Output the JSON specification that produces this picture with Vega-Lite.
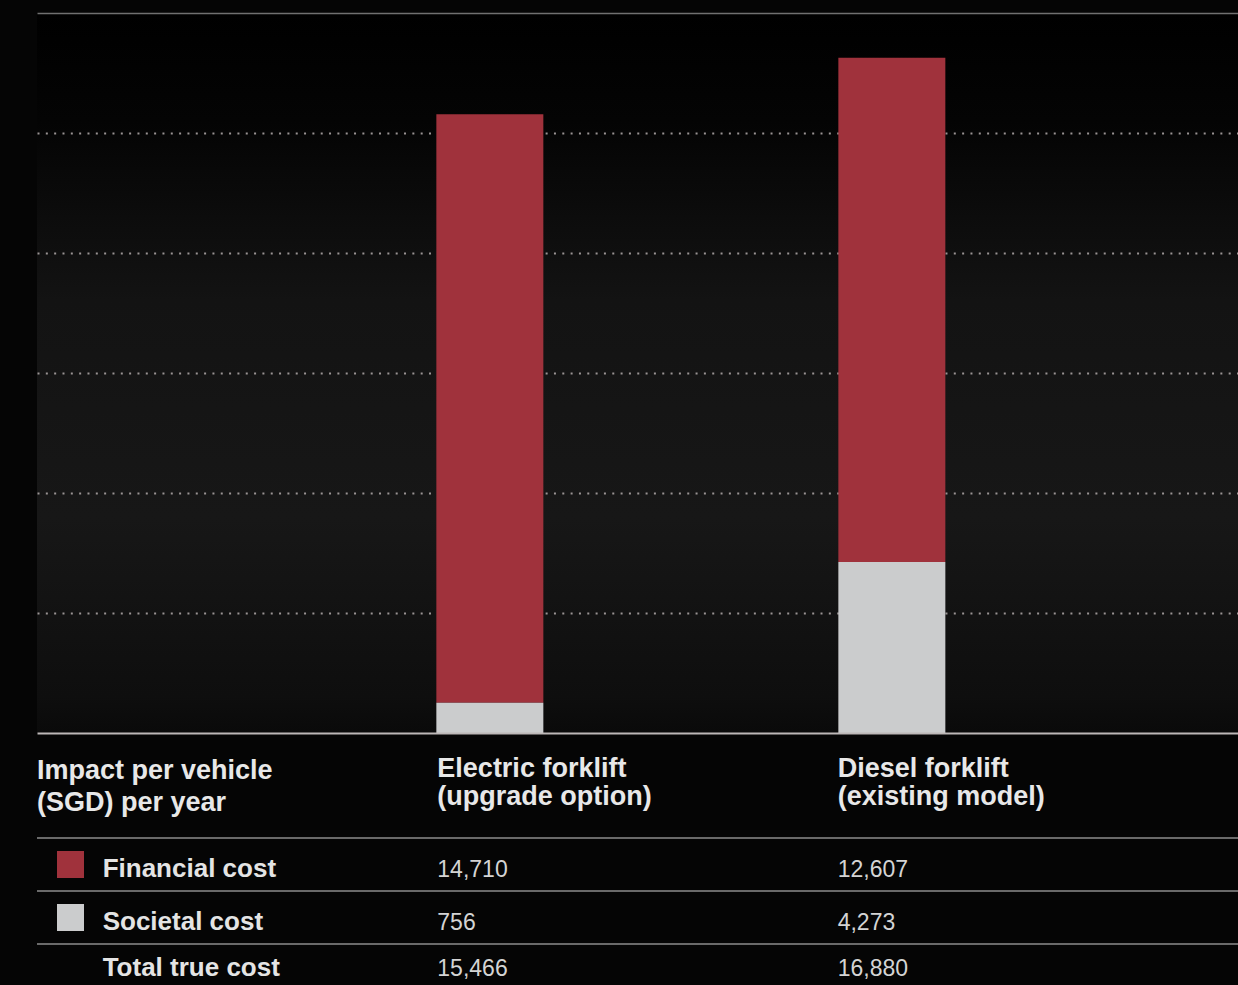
{
  "$schema": "https://vega.github.io/schema/vega-lite/v6.json",
  "background": "#050505",
  "padding": {"left": 36, "top": 13, "right": 0, "bottom": 0},
  "spacing": 0,
  "config": {
    "view": {"stroke": null},
    "axis": {"minExtent": 0},
    "font": "Liberation Sans",
    "concat": {"spacing": 0}
  },
  "resolve": {"scale": {"x": "independent", "y": "independent"}},
  "datasets": {
    "costs": [
      {"vehicle": "Electric forklift", "cost": "Financial cost", "value": 14710},
      {"vehicle": "Electric forklift", "cost": "Societal cost", "value": 756},
      {"vehicle": "Electric forklift", "cost": "Total true cost", "value": 15466},
      {"vehicle": "Diesel forklift", "cost": "Financial cost", "value": 12607},
      {"vehicle": "Diesel forklift", "cost": "Societal cost", "value": 4273},
      {"vehicle": "Diesel forklift", "cost": "Total true cost", "value": 16880}
    ],
    "headers": [
      {"column": "Cost type", "lines": ["Impact per vehicle", "(SGD) per year"]},
      {"column": "Electric forklift", "lines": ["Electric forklift", "(upgrade option)"]},
      {"column": "Diesel forklift", "lines": ["Diesel forklift", "(existing model)"]}
    ]
  },
  "vconcat": [
    {
      "width": 1201,
      "height": 720,
      "view": {
        "fill": {
          "gradient": "linear", "x1": 0, "y1": 0, "x2": 0, "y2": 1,
          "stops": [
            {"offset": 0, "color": "#000000"},
            {"offset": 0.15, "color": "#040404"},
            {"offset": 0.4, "color": "#131313"},
            {"offset": 0.7, "color": "#171717"},
            {"offset": 0.95, "color": "#0e0e0e"},
            {"offset": 1, "color": "#0a0a0a"}
          ]
        }
      },
      "data": {"name": "costs"},
      "transform": [{"filter": "datum.cost !== 'Total true cost'"}],
      "mark": {"type": "bar"},
      "encoding": {
        "x": {
          "field": "vehicle", "type": "nominal",
          "scale": {"domain": ["Electric forklift", "Diesel forklift"], "paddingInner": 0.73383, "paddingOuter": 0.86069, "align": 0.57709},
          "axis": {"labels": false, "ticks": false, "title": null, "grid": false, "domainColor": "#bdb8b8", "domainWidth": 2, "zindex": 1}
        },
        "y": {
          "field": "value", "type": "quantitative", "stack": "zero",
          "scale": {"domain": [0, 18000], "nice": false},
          "axis": {
            "values": [3000, 6000, 9000, 12000, 15000, 18000],
            "labels": false, "ticks": false, "domain": false, "title": null, "grid": true,
            "gridColor": {"condition": {"test": "datum.value === 18000", "value": "#707070"}, "value": "#9a9494"},
            "gridDash": {"condition": {"test": "datum.value === 18000", "value": []}, "value": [2, 6.33]},
            "gridWidth": {"condition": {"test": "datum.value === 18000", "value": 1.5}, "value": 2}
          }
        },
        "color": {
          "field": "cost", "type": "nominal",
          "scale": {"domain": ["Financial cost", "Societal cost"], "range": ["#a0323c", "#cbcccd"]},
          "legend": null
        },
        "order": {"field": "cost", "sort": "descending"}
      }
    },
    {
      "width": 1201,
      "height": 104,
      "data": {"name": "headers"},
      "layer": [
        {
          "transform": [{"filter": "datum.column === 'Cost type'"}],
          "mark": {"type": "text", "align": "left", "baseline": "alphabetic", "dy": -6, "fontSize": 27, "fontWeight": "bold", "color": "#e8e8e8", "lineHeight": 32},
          "encoding": {
            "x": {"field": "column", "type": "nominal", "bandPosition": 0, "scale": {"type": "band", "domain": ["Cost type", "Electric forklift", "Diesel forklift"], "paddingInner": 0, "paddingOuter": 0}, "axis": null},
            "text": {"field": "lines"}
          }
        },
        {
          "transform": [{"filter": "datum.column !== 'Cost type'"}],
          "mark": {"type": "text", "align": "left", "baseline": "alphabetic", "dy": -8, "fontSize": 27, "fontWeight": "bold", "color": "#e8e8e8", "lineHeight": 28},
          "encoding": {
            "x": {"field": "column", "type": "nominal", "bandPosition": 0, "axis": null},
            "text": {"field": "lines"}
          }
        }
      ]
    },
    {
      "width": 1201,
      "height": 159,
      "data": {"name": "costs"},
      "layer": [
        {
          "transform": [{"filter": "datum.vehicle === 'Electric forklift'"}],
          "mark": {"type": "rule", "color": "#8c8c8c", "strokeWidth": 1.5},
          "encoding": {
            "y": {"field": "cost", "type": "nominal", "bandPosition": 0, "scale": {"type": "band", "domain": ["Financial cost", "Societal cost", "Total true cost"], "paddingInner": 0, "paddingOuter": 0}, "axis": null}
          }
        },
        {
          "transform": [{"filter": "datum.vehicle === 'Electric forklift' && datum.cost !== 'Total true cost'"}],
          "mark": {"type": "square", "size": 729, "filled": true, "opacity": 1},
          "encoding": {
            "x": {"datum": "Cost type", "type": "nominal", "bandPosition": 0.0837, "scale": {"type": "band", "domain": ["Cost type", "Electric forklift", "Diesel forklift"], "paddingInner": 0, "paddingOuter": 0}, "axis": null},
            "y": {"field": "cost", "type": "nominal", "axis": null},
            "color": {"field": "cost", "type": "nominal", "scale": {"domain": ["Financial cost", "Societal cost"], "range": ["#a0323c", "#cbcccd"]}, "legend": null}
          }
        },
        {
          "transform": [{"filter": "datum.vehicle === 'Electric forklift' && datum.cost !== 'Total true cost'"}],
          "mark": {"type": "text", "align": "left", "baseline": "alphabetic", "dy": 12, "fontSize": 26, "fontWeight": "bold", "color": "#e4e4e4"},
          "encoding": {
            "x": {"datum": "Cost type", "type": "nominal", "bandPosition": 0.164, "axis": null},
            "y": {"field": "cost", "type": "nominal", "axis": null},
            "text": {"field": "cost", "type": "nominal"}
          }
        },
        {
          "transform": [{"filter": "datum.vehicle === 'Electric forklift' && datum.cost === 'Total true cost'"}],
          "mark": {"type": "text", "align": "left", "baseline": "alphabetic", "dy": 5, "fontSize": 26, "fontWeight": "bold", "color": "#e4e4e4"},
          "encoding": {
            "x": {"datum": "Cost type", "type": "nominal", "bandPosition": 0.164, "axis": null},
            "y": {"field": "cost", "type": "nominal", "axis": null},
            "text": {"field": "cost", "type": "nominal"}
          }
        },
        {
          "transform": [{"filter": "datum.cost !== 'Total true cost'"}],
          "mark": {"type": "text", "align": "left", "baseline": "alphabetic", "dy": 12, "fontSize": 23, "color": "#d4d4d4"},
          "encoding": {
            "x": {"field": "vehicle", "type": "nominal", "bandPosition": 0, "axis": null},
            "y": {"field": "cost", "type": "nominal", "axis": null},
            "text": {"field": "value", "type": "quantitative", "format": ","}
          }
        },
        {
          "transform": [{"filter": "datum.cost === 'Total true cost'"}],
          "mark": {"type": "text", "align": "left", "baseline": "alphabetic", "dy": 5, "fontSize": 23, "color": "#d4d4d4"},
          "encoding": {
            "x": {"field": "vehicle", "type": "nominal", "bandPosition": 0, "axis": null},
            "y": {"field": "cost", "type": "nominal", "axis": null},
            "text": {"field": "value", "type": "quantitative", "format": ","}
          }
        }
      ]
    }
  ]
}
